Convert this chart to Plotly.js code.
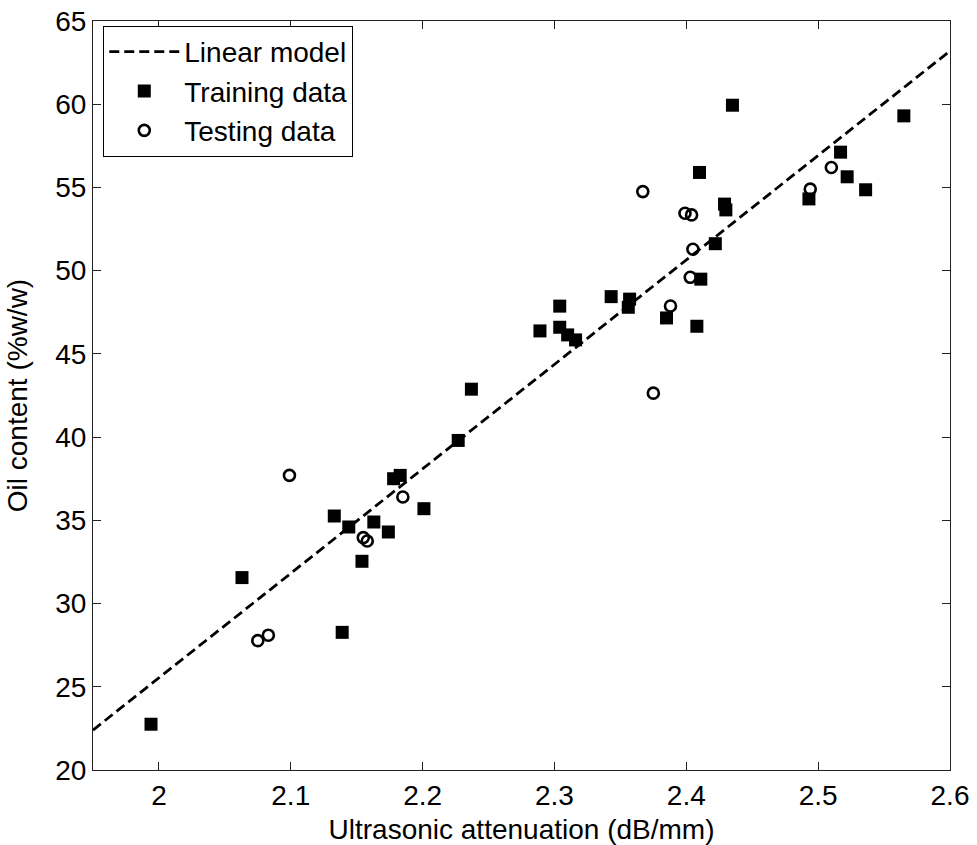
<!DOCTYPE html>
<html>
<head>
<meta charset="utf-8">
<script src="https://cdn.plot.ly/plotly-3.0.1.min.js"></script>
<style>html,body{margin:0;padding:0;background:#fff;}#chart{width:977px;height:845px;}</style>
</head>
<body>
<div id="chart"></div>
<script>
// Linear model (endpoints)
const modelX = [1.95, 2.6];
const modelY = [22.4, 63.2];

// Training data (filled squares)
const trainX = [1.994, 2.063, 2.133, 2.139, 2.144, 2.154, 2.163, 2.174, 2.178, 2.183, 2.201, 2.227, 2.237,
  2.289, 2.304, 2.304, 2.310, 2.316, 2.343, 2.356, 2.357, 2.385, 2.408, 2.410, 2.411, 2.422, 2.429, 2.430,
  2.435, 2.493, 2.517, 2.522, 2.536, 2.565];
const trainY = [22.75, 31.56, 35.26, 28.27, 34.6, 32.54, 34.9, 34.3, 37.5, 37.7, 35.7, 39.8, 42.88,
  46.38, 47.87, 46.6, 46.14, 45.84, 48.44, 47.8, 48.29, 47.16, 46.66, 55.9, 49.49, 51.62, 54.0, 53.65,
  59.94, 54.31, 57.12, 55.64, 54.86, 59.3];

// Testing data (open circles)
const testX = [2.075, 2.083, 2.099, 2.155, 2.158, 2.185, 2.367, 2.375, 2.388, 2.399, 2.403, 2.404, 2.405, 2.494, 2.510];
const testY = [27.77, 28.1, 37.7, 33.96, 33.76, 36.4, 54.75, 42.64, 47.88, 53.45, 49.6, 53.35, 51.29, 54.9, 56.2];

const xTicks = [2, 2.1, 2.2, 2.3, 2.4, 2.5, 2.6];
const yTicks = [20, 25, 30, 35, 40, 45, 50, 55, 60, 65];

const FONT = 'Liberation Sans, Arial, sans-serif';

const traces = [
  {x: modelX, y: modelY, mode: 'lines', name: 'Linear model',
   line: {color: '#000', width: 2.8, dash: '10px,5px'}},
  {x: trainX, y: trainY, mode: 'markers', name: 'Training data',
   marker: {symbol: 'square', size: 13, color: '#000', line: {width: 0}}},
  {x: testX, y: testY, mode: 'markers', name: 'Testing data',
   marker: {symbol: 'circle-open', size: 11, color: '#000', line: {width: 2.6, color: '#000'}}}
];

const axisCommon = {
  showgrid: false, zeroline: false, showline: true, mirror: 'ticks',
  linecolor: '#222', linewidth: 1, ticks: 'inside', ticklen: 8, tickwidth: 1, tickcolor: '#222',
  tickfont: {family: FONT, size: 28, color: '#000'}
};

const layout = {
  width: 977, height: 845,
  margin: {l: 93, r: 27, t: 21, b: 75},
  paper_bgcolor: '#fff', plot_bgcolor: '#fff',
  showlegend: true,
  legend: {x: 0.012, y: 0.9935, xanchor: 'left', yanchor: 'top',
    bgcolor: '#fff', bordercolor: '#000', borderwidth: 1, itemwidth: 70,
    font: {family: FONT, size: 28, color: '#000'}, tracegroupgap: 0},
  xaxis: Object.assign({}, axisCommon, {
    range: [1.95, 2.6], tickvals: xTicks, ticktext: xTicks.map(String),
    title: {text: 'Ultrasonic attenuation (dB/mm)', font: {family: FONT, size: 28, color: '#000'}}
  }),
  yaxis: Object.assign({}, axisCommon, {
    range: [20, 65], tickvals: yTicks, ticktext: yTicks.map(String),
    title: {text: 'Oil content (%w/w)', font: {family: FONT, size: 28, color: '#000'}}
  })
};

Plotly.newPlot('chart', traces, layout, {displayModeBar: false, staticPlot: true});
</script>
</body>
</html>
